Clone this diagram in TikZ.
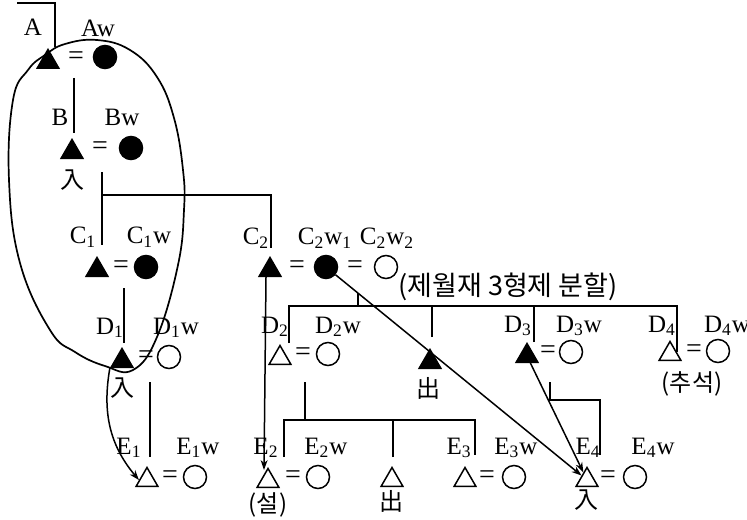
\documentclass[tikz,border=0pt]{standalone}
\usepackage{fontspec}
\setmainfont{Liberation Serif}
\newfontfamily\krfont{Noto Sans CJK KR}
\usetikzlibrary{arrows.meta,shapes.geometric}

\begin{document}
\begin{tikzpicture}[x=0.5pt,y=-0.5pt,line width=0.75pt,
  font=\fontsize{12.5}{14}\selectfont,
  MaleF/.style={regular polygon,regular polygon sides=3,draw,fill=black,inner sep=0pt,minimum size=12.5pt},
  MaleO/.style={regular polygon,regular polygon sides=3,draw,inner sep=0pt,minimum size=12.5pt},
  FemF/.style={circle,draw,fill=black,inner sep=0pt,minimum size=11.5pt},
  FemO/.style={circle,draw,inner sep=0pt,minimum size=11.5pt},
  EqSgn/.style={inner sep=0pt,font=\fontsize{14}{14}\selectfont},
  Lbl/.style={inner sep=0pt},
  KrLbl/.style={inner sep=0pt,font=\fontsize{12}{14}\krfont},
  ArrLn/.style={-{Stealth[length=5pt,width=3.5pt]}}]
\useasboundingbox (0,0) rectangle (747,519);

\node[Lbl] (lA) at (33,27) {A};
\node[Lbl] (lAw) at (98,28) {Aw};
\node[MaleF] (mA) at (48,62) {};
\node[EqSgn] (eA) at (76,58) {=};
\node[FemF] (fA) at (105,57) {};

\node[Lbl] (lB) at (60,117) {B};
\node[Lbl] (lBw) at (122,117) {Bw};
\node[MaleF] (mB) at (72,152) {};
\node[EqSgn] (eB) at (100,148) {=};
\node[FemF] (fB) at (131,148) {};
\node[KrLbl] (inB) at (72,180) {入};

\node[Lbl] (lC1) at (83,237) {C\textsubscript{1}};
\node[Lbl] (lC1w) at (149,237) {C\textsubscript{1}w};
\node[MaleF] (mC1) at (97,270) {};
\node[EqSgn] (eC1) at (121,267) {=};
\node[FemF] (fC1) at (146,267) {};

\node[Lbl] (lC2) at (256,238) {C\textsubscript{2}};
\node[Lbl] (lC2w1) at (325,238) {C\textsubscript{2}w\textsubscript{1}};
\node[Lbl] (lC2w2) at (387,238) {C\textsubscript{2}w\textsubscript{2}};
\node[MaleF] (mC2) at (270,270) {};
\node[EqSgn] (eC2a) at (297,267) {=};
\node[FemF] (fC2a) at (326,267) {};
\node[EqSgn] (eC2b) at (355,267) {=};
\node[FemO] (fC2b) at (386,267) {};
\node[inner sep=0pt,font=\fontsize{13.5}{15}\krfont] (ttl) at (508,287) {(제월재 3형제 분할)};

\node[Lbl] (lD1) at (110,328) {D\textsubscript{1}};
\node[Lbl] (lD1w) at (176,328) {D\textsubscript{1}w};
\node[MaleF] (mD1) at (122,361) {};
\node[EqSgn] (eD1) at (146,357) {=};
\node[FemO] (fD1) at (169,357) {};
\node[KrLbl] (inD1) at (122,388) {入};

\node[Lbl] (lD2) at (275,327) {D\textsubscript{2}};
\node[Lbl] (lD2w) at (338,327) {D\textsubscript{2}w};
\node[MaleO] (mD2) at (280,358) {};
\node[EqSgn] (eD2) at (303,354) {=};
\node[FemO] (fD2) at (328,354) {};

\node[MaleF] (mDx) at (430,362) {};
\node[KrLbl] (outDx) at (428,388) {出};

\node[Lbl] (lD3) at (518,326) {D\textsubscript{3}};
\node[Lbl] (lD3w) at (579,326) {D\textsubscript{3}w};
\node[MaleF] (mD3) at (527,356) {};
\node[EqSgn] (eD3) at (548,352) {=};
\node[FemO] (fD3) at (571,352) {};

\node[Lbl] (lD4) at (662,326) {D\textsubscript{4}};
\node[Lbl] (lD4w) at (727,326) {D\textsubscript{4}w};
\node[MaleO] (mD4) at (670,354) {};
\node[EqSgn] (eD4) at (694,351) {=};
\node[FemO] (fD4) at (718,351) {};
\node[KrLbl] (cuD4) at (692,384) {(추석)};

\node[Lbl] (lE1) at (129,448) {E\textsubscript{1}};
\node[Lbl] (lE1w) at (198,448) {E\textsubscript{1}w};
\node[MaleO] (mE1) at (147,480) {};
\node[EqSgn] (eE1) at (170,477) {=};
\node[FemO] (fE1) at (195,477) {};

\node[Lbl] (lE2) at (266,448) {E\textsubscript{2}};
\node[Lbl] (lE2w) at (326,448) {E\textsubscript{2}w};
\node[MaleO] (mE2) at (268,481) {};
\node[EqSgn] (eE2) at (293,477) {=};
\node[FemO] (fE2) at (318,477) {};
\node[KrLbl] (slE2) at (268,505) {(설)};

\node[MaleO] (mEx) at (392,480) {};
\node[KrLbl] (outEx) at (391,501) {出};

\node[Lbl] (lE3) at (459,448) {E\textsubscript{3}};
\node[Lbl] (lE3w) at (516,448) {E\textsubscript{3}w};
\node[MaleO] (mE3) at (465,480) {};
\node[EqSgn] (eE3) at (487,477) {=};
\node[FemO] (fE3) at (514,477) {};

\node[Lbl] (lE4) at (588,448) {E\textsubscript{4}};
\node[Lbl] (lE4w) at (653,448) {E\textsubscript{4}w};
\node[MaleO] (mE4) at (587,480) {};
\node[EqSgn] (eE4) at (608,477) {=};
\node[FemO] (fE4) at (635,477) {};
\node[KrLbl] (inE4) at (586,500) {入};

\coordinate (a0) at (17,3);
\coordinate (a1) at (55,47);
\coordinate (b0) at (74,78);
\coordinate (b1) at (74,133);
\coordinate (c0) at (102,172);
\coordinate (c1) at (102,245);
\coordinate (c2) at (102,195);
\coordinate (c3) at (271,248);
\coordinate (d0) at (124,288);
\coordinate (d1) at (124,343);
\coordinate (k0) at (358,293);
\coordinate (k1) at (358,306);
\coordinate (k2) at (289,343);
\coordinate (k3) at (677,352);
\coordinate (k4) at (432,337);
\coordinate (k5) at (534,342);
\coordinate (e0) at (150,382);
\coordinate (e1) at (150,457);
\coordinate (g0) at (305,382);
\coordinate (g1) at (305,420);
\coordinate (g2) at (284,457);
\coordinate (g3) at (475,455);
\coordinate (g4) at (393,457);
\coordinate (h0) at (550,382);
\coordinate (h1) at (600,400);
\coordinate (h2) at (600,455);

\draw (a0) -| (a1);
\draw (b0) -- (b1);
\draw (c0) -- (c1);
\draw (c2) -| (c3);
\draw (d0) -- (d1);
\draw (k0) -- (k1);
\draw (k2) |- (k1) -| (k3);
\draw (k4) -- (k4 |- k1);
\draw (k5) -- (k5 |- k1);
\draw (e0) -- (e1);
\draw (g0) -- (g1);
\draw (g2) |- (g1) -| (g3);
\draw (g4) -- (g4 |- g1);
\draw (h0) |- (h1) -- (h2);

\draw[line width=0.85pt] plot[smooth cycle,tension=0.7] coordinates {(45,55) (65,44) (97,40) (130,50) (157,77) (174,118) (183,170) (184,210) (178,265) (157,337) (133,370) (105,366) (75,352) (50,330) (20,263) (9,180) (13,100) (28,70)};

\draw[ArrLn] (mD1.corner 2) to[out=-100,in=130] (mE1.west);
\draw[ArrLn] ([xshift=-2pt]mC2.south) -- ([xshift=-2pt,yshift=-1.5pt]mE2.north);
\draw[ArrLn] (fC2a) -- (mE4);
\draw[ArrLn] (mD3) -- (mE4);

\end{tikzpicture}
\end{document}
